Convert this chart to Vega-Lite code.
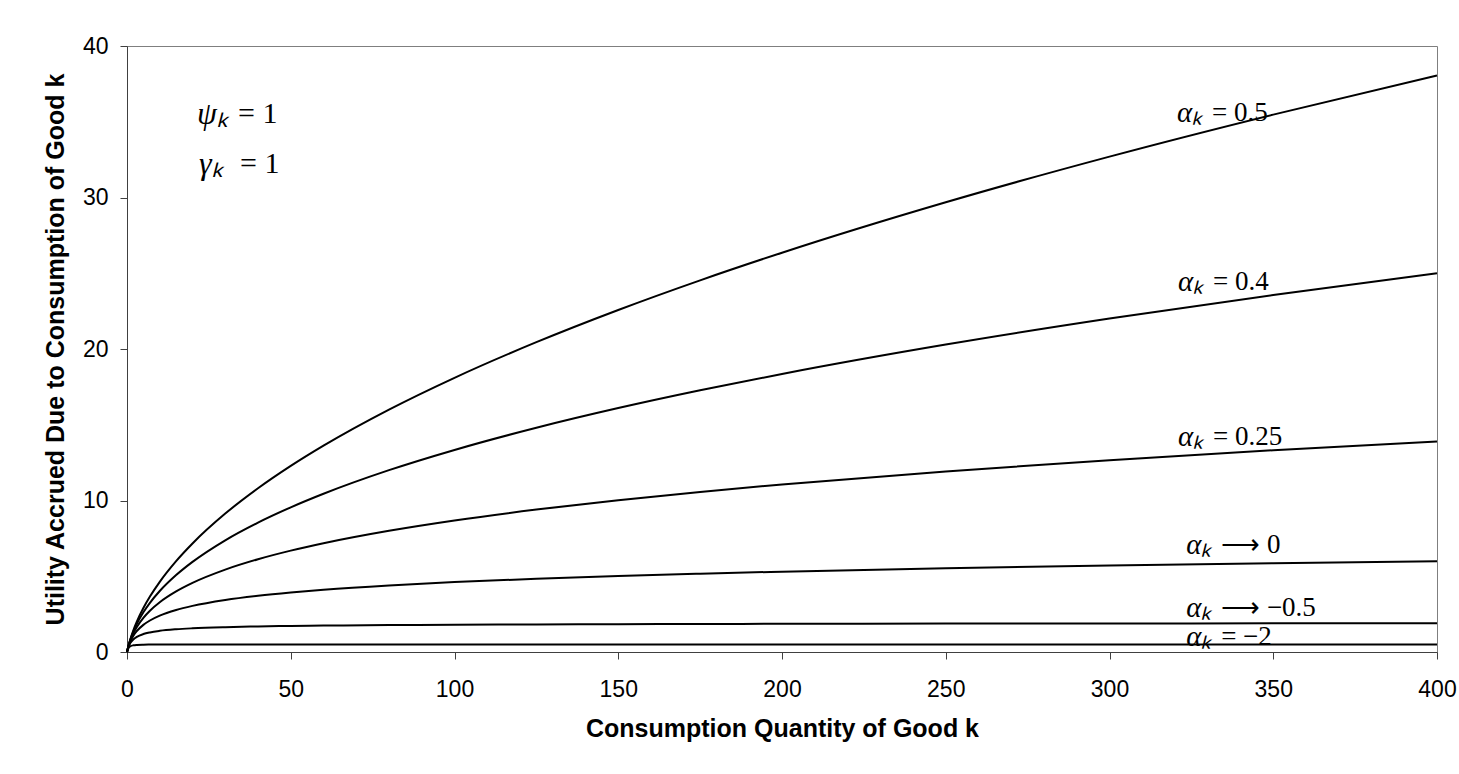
{
  "$schema": "https://vega.github.io/schema/vega-lite/v6.json",
  "autosize": {"type": "none"},
  "padding": {"left": 127, "top": 46, "right": 22, "bottom": 122},
  "width": 1310,
  "height": 606,
  "background": "white",
  "config": {
    "view": {"stroke": "#7f7f7f", "strokeWidth": 1},
    "axis": {
      "labelFont": "Liberation Sans",
      "labelFontSize": 23,
      "labelColor": "black",
      "labelFlush": false,
      "titleFont": "Liberation Sans",
      "titleFontSize": 25,
      "titleFontWeight": "bold",
      "titleColor": "black",
      "domainColor": "#404040",
      "tickColor": "#404040",
      "tickSize": 7,
      "grid": false
    }
  },
  "datasets": {
    "curves": [
      {"x": 0, "a05": 0, "a04": 0, "a025": 0, "a0": 0, "am05": 0, "am2": 0},
      {"x": 0.5, "a05": 0.449, "a04": 0.44, "a025": 0.427, "a0": 0.405, "am05": 0.367, "am2": 0.278},
      {"x": 1, "a05": 0.828, "a04": 0.799, "a025": 0.757, "a0": 0.693, "am05": 0.586, "am2": 0.375},
      {"x": 2, "a05": 1.464, "a04": 1.38, "a025": 1.264, "a0": 1.099, "am05": 0.845, "am2": 0.444},
      {"x": 3, "a05": 2.0, "a04": 1.853, "a025": 1.657, "a0": 1.386, "am05": 1.0, "am2": 0.469},
      {"x": 5, "a05": 2.899, "a04": 2.619, "a025": 2.26, "a0": 1.792, "am05": 1.184, "am2": 0.486},
      {"x": 7, "a05": 3.657, "a04": 3.244, "a025": 2.727, "a0": 2.079, "am05": 1.293, "am2": 0.492},
      {"x": 10, "a05": 4.633, "a04": 4.024, "a025": 3.285, "a0": 2.398, "am05": 1.397, "am2": 0.496},
      {"x": 15, "a05": 6.0, "a04": 5.079, "a025": 4.0, "a0": 2.773, "am05": 1.5, "am2": 0.498},
      {"x": 20, "a05": 7.165, "a04": 5.95, "a025": 4.563, "a0": 3.045, "am05": 1.564, "am2": 0.499},
      {"x": 30, "a05": 9.136, "a04": 7.375, "a025": 5.438, "a0": 3.434, "am05": 1.641, "am2": 0.4995},
      {"x": 40, "a05": 10.806, "a04": 8.543, "a025": 6.123, "a0": 3.714, "am05": 1.688, "am2": 0.4997},
      {"x": 50, "a05": 12.283, "a04": 9.549, "a025": 6.69, "a0": 3.932, "am05": 1.72, "am2": 0.4998},
      {"x": 60, "a05": 13.62, "a04": 10.445, "a025": 7.179, "a0": 4.111, "am05": 1.744, "am2": 0.4999},
      {"x": 80, "a05": 16.0, "a04": 12.002, "a025": 8.0, "a0": 4.394, "am05": 1.778, "am2": 0.4999},
      {"x": 100, "a05": 18.1, "a04": 13.337, "a025": 8.681, "a0": 4.615, "am05": 1.801, "am2": 0.5},
      {"x": 125, "a05": 20.45, "a04": 14.801, "a025": 9.402, "a0": 4.836, "am05": 1.822, "am2": 0.5},
      {"x": 150, "a05": 22.576, "a04": 16.1, "a025": 10.022, "a0": 5.017, "am05": 1.837, "am2": 0.5},
      {"x": 175, "a05": 24.533, "a04": 17.274, "a025": 10.568, "a0": 5.17, "am05": 1.849, "am2": 0.5},
      {"x": 200, "a05": 26.355, "a04": 18.352, "a025": 11.061, "a0": 5.303, "am05": 1.859, "am2": 0.5},
      {"x": 250, "a05": 29.686, "a04": 20.292, "a025": 11.921, "a0": 5.525, "am05": 1.874, "am2": 0.5},
      {"x": 300, "a05": 32.699, "a04": 22.008, "a025": 12.661, "a0": 5.707, "am05": 1.885, "am2": 0.5},
      {"x": 350, "a05": 35.47, "a04": 23.567, "a025": 13.314, "a0": 5.861, "am05": 1.893, "am2": 0.5},
      {"x": 400, "a05": 38.05, "a04": 24.993, "a025": 13.9, "a0": 5.994, "am05": 1.9, "am2": 0.5}
    ],
    "labels": [
      {"x": 320.6, "y": 35.6, "sym": "αₖ", "rest": "= 0.5"},
      {"x": 320.9, "y": 24.4, "sym": "αₖ", "rest": "= 0.4"},
      {"x": 320.9, "y": 14.2, "sym": "αₖ", "rest": "= 0.25"},
      {"x": 323.4, "y": 7.06, "sym": "αₖ", "rest": "⟶ 0"},
      {"x": 323.4, "y": 2.9, "sym": "αₖ", "rest": "⟶ −0.5"},
      {"x": 323.4, "y": 0.99, "sym": "αₖ", "rest": "= −2"}
    ],
    "params": [
      {"x": 21.4, "y": 35.5, "sym": "ψₖ", "rest": "= 1"},
      {"x": 22.0, "y": 32.2, "sym": "γₖ", "rest": "= 1"}
    ]
  },
  "layer": [
    {
      "data": {"name": "curves"},
      "transform": [{"fold": ["a05", "a04", "a025", "a0", "am05", "am2"], "as": ["series", "u"]}],
      "mark": {"type": "line", "color": "black", "strokeWidth": 2, "interpolate": "monotone"},
      "encoding": {
        "x": {"field": "x", "type": "quantitative", "scale": {"domain": [0, 400], "nice": false},
              "axis": {"values": [0, 50, 100, 150, 200, 250, 300, 350, 400], "labelPadding": 19, "titlePadding": 15, "title": "Consumption Quantity of Good k"}},
        "y": {"field": "u", "type": "quantitative", "scale": {"domain": [0, 40], "nice": false},
              "axis": {"values": [0, 10, 20, 30, 40], "labelPadding": 12, "titlePadding": 14, "title": "Utility Accrued Due to Consumption of Good k"}},
        "detail": {"field": "series"}
      }
    },
    {
      "data": {"name": "labels"},
      "mark": {"type": "text", "align": "left", "baseline": "middle", "font": "Liberation Serif", "fontSize": 29, "fontStyle": "italic", "color": "black"},
      "encoding": {
        "x": {"field": "x", "type": "quantitative"},
        "y": {"field": "y", "type": "quantitative"},
        "text": {"field": "sym"}
      }
    },
    {
      "data": {"name": "labels"},
      "mark": {"type": "text", "align": "left", "baseline": "middle", "font": "Liberation Serif", "fontSize": 27, "dx": 35, "color": "black"},
      "encoding": {
        "x": {"field": "x", "type": "quantitative"},
        "y": {"field": "y", "type": "quantitative"},
        "text": {"field": "rest"}
      }
    },
    {
      "data": {"name": "params"},
      "mark": {"type": "text", "align": "left", "baseline": "middle", "font": "Liberation Serif", "fontSize": 32, "fontStyle": "italic", "color": "black"},
      "encoding": {
        "x": {"field": "x", "type": "quantitative"},
        "y": {"field": "y", "type": "quantitative"},
        "text": {"field": "sym"}
      }
    },
    {
      "data": {"name": "params"},
      "mark": {"type": "text", "align": "left", "baseline": "middle", "font": "Liberation Serif", "fontSize": 30, "dx": 41, "color": "black"},
      "encoding": {
        "x": {"field": "x", "type": "quantitative"},
        "y": {"field": "y", "type": "quantitative"},
        "text": {"field": "rest"}
      }
    }
  ]
}
